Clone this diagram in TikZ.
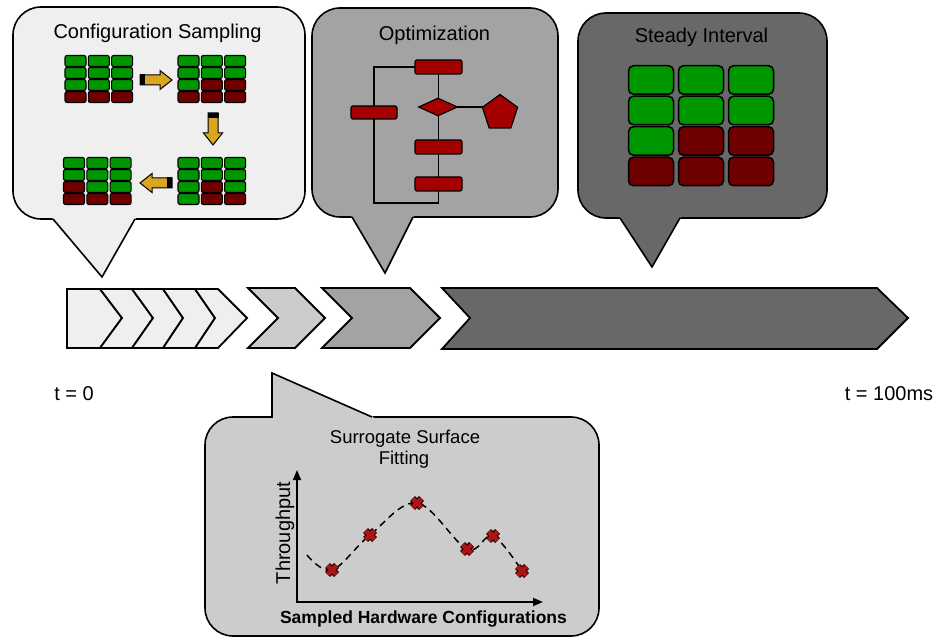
\documentclass[tikz,border=0pt]{standalone}
\usepackage{fontspec}
\setmainfont{Liberation Sans}
\usetikzlibrary{shapes.geometric,arrows.meta}
\pgfdeclarelayer{bubbles}\pgfdeclarelayer{wires}
\pgfsetlayers{bubbles,wires,main}
\definecolor{lg}{RGB}{239,239,239}
\definecolor{mg}{RGB}{204,204,204}
\definecolor{g2}{RGB}{163,163,163}
\definecolor{dg}{RGB}{104,104,104}
\definecolor{gn}{RGB}{0,150,0}
\definecolor{rd}{RGB}{110,0,0}
\definecolor{fred}{RGB}{165,0,0}
\definecolor{xred}{RGB}{175,20,20}
\definecolor{gold}{RGB}{218,165,32}
\tikzset{
  bubble/.style={draw=black, line width=1.6pt, rounded corners=28pt},
  tailline/.style={line width=1.6pt, line join=miter},
  chev/.style={draw=black, line width=1.8pt, line join=miter},
  cell/.style={draw=black, line width=1.1pt, rounded corners=2pt, minimum width=21pt, minimum height=11pt, inner sep=0pt},
  bigcell/.style={draw=black, line width=1.5pt, rounded corners=5pt, minimum width=45pt, minimum height=28.5pt, inner sep=0pt},
  flow/.style={draw=black, line width=1.2pt, fill=fred, rounded corners=2pt, minimum width=47pt, minimum height=14pt, inner sep=0pt},
  wire/.style={line width=1.8pt},
  lbl/.style={inner sep=0pt, anchor=base},
  xmark/.pic={\draw[line width=7pt] (-4.5,-4.5)--(4.5,4.5) (-4.5,4.5)--(4.5,-4.5);
              \draw[line width=4.6pt, xred] (-4.5,-4.5)--(4.5,4.5) (-4.5,4.5)--(4.5,-4.5);}
}
\newcommand{\cfggrid}[4]{%
  \foreach \c [count=\i from 0] in {#4} {
    \pgfmathtruncatemacro{\cc}{mod(\i,3)}
    \pgfmathtruncatemacro{\rr}{\i/3}
    \node[cell, fill=\c] (#1-\i) at ({#2+23.3*\cc},{#3+12*\rr}) {};
  }}
\newcommand{\goldarrow}[3]{%
  \begin{scope}[shift={(#1,#2)}, rotate=#3]
    \filldraw[fill=gold, draw=black, line width=1pt, line join=miter] (0,-5) -- (20,-5) -- (20,-9.5) -- (32,0) -- (20,9.5) -- (20,5) -- (0,5) -- cycle;
    \fill[black] (0,-5.5) rectangle (5,5.5);
  \end{scope}}
\begin{document}
\begin{tikzpicture}[x=1pt,y=-1pt, font=\fontsize{20}{24}\selectfont]
\useasboundingbox (0,0) rectangle (940,639);

% ---------- bubbles ----------
\begin{pgfonlayer}{bubbles}
  % configuration sampling
  \filldraw[bubble, fill=lg] (13,7) rectangle (305,219);
  \fill[lg] (50,216) -- (53,219) -- (102,277) -- (135,219) -- (138,216) -- cycle;
  \draw[tailline] (53,219) -- (102,277) -- (135,219);
  % optimization
  \filldraw[bubble, fill=g2] (312,8) rectangle (558,217);
  \fill[g2] (349,214) -- (352,217) -- (385,273) -- (413,217) -- (416,214) -- cycle;
  \draw[tailline] (352,217) -- (385,273) -- (413,217);
  % steady interval
  \filldraw[bubble, fill=dg] (578,13) rectangle (827,218);
  \fill[dg] (617,215) -- (620,218) -- (652,267) -- (680,218) -- (683,215) -- cycle;
  \draw[tailline] (620,218) -- (652,267) -- (680,218);
  % surrogate
  \filldraw[bubble, fill=mg] (205,417) rectangle (599,636);
  \fill[mg] (273,420) -- (273,374) -- (372,416) -- (376,420) -- cycle;
  \draw[tailline] (272,417) -- (272,373) -- (372,417);
\end{pgfonlayer}

% ---------- titles ----------
\node[lbl] (t1) at (157.5,39) {Configuration Sampling};
\node[lbl] (t2) at (434.5,41) {Optimization};
\node[lbl] (t3) at (701.5,43) {Steady Interval};
\node[lbl, font=\fontsize{18.5}{20}\selectfont] (t4) at (405,443) {Surrogate Surface};
\node[lbl, font=\fontsize{18.5}{20}\selectfont] (t5) at (404,464) {Fitting};

% ---------- configuration grids ----------
\cfggrid{ga}{75.5}{61}{gn,gn,gn,gn,gn,gn,gn,gn,gn,rd,rd,rd}
\cfggrid{gb}{188.5}{61}{gn,gn,gn,gn,gn,gn,gn,rd,rd,rd,rd,rd}
\cfggrid{gc}{188.5}{163}{gn,gn,gn,gn,gn,gn,gn,rd,gn,gn,rd,rd}
\cfggrid{gd}{74}{163}{gn,gn,gn,gn,gn,gn,rd,gn,gn,rd,rd,rd}
\goldarrow{140}{80}{0}
\goldarrow{213}{113}{-90}
\goldarrow{172}{183}{180}

% ---------- optimization flowchart ----------
\node[flow] (f1) at (438.5,67) {};
\node[flow, minimum width=46pt, minimum height=13pt] (f2) at (374,112.5) {};
\node[diamond, draw=black, fill=fred, line width=1.2pt, minimum width=39pt, minimum height=18pt, inner sep=0pt] (fd) at (438,107) {};
\node[regular polygon, regular polygon sides=5, draw=black, fill=fred, line width=1.2pt, minimum size=37pt, inner sep=0pt] (fp) at (500,113) {};
\node[flow] (f3) at (438.5,147) {};
\node[flow] (f4) at (438.5,184) {};
\coordinate (lb) at (374,203);
\begin{pgfonlayer}{wires}
  \draw[wire] (f1.center) -- (f4.center);
  \draw[wire] (fd.center) -- (fd.center -| fp.center);
  \draw[wire, line join=miter] (f1.center) -| (lb) -| (f4.center);
\end{pgfonlayer}

% ---------- steady grid ----------
\foreach \c [count=\i from 0] in {gn,gn,gn,gn,gn,gn,gn,rd,rd,rd,rd,rd} {
  \pgfmathtruncatemacro{\cc}{mod(\i,3)}
  \pgfmathtruncatemacro{\rr}{\i/3}
  \node[bigcell, fill=\c] (s-\i) at ({651+50*\cc},{80+30.5*\rr}) {};
}

% ---------- timeline chevrons ----------
\filldraw[chev, fill=lg] (67,289) -- (100,289) -- (122,318) -- (100,348) -- (67,348) -- cycle;
\filldraw[chev, fill=lg] (100,289) -- (132,289) -- (153,318) -- (132,348) -- (100,348) -- (122,318) -- cycle;
\filldraw[chev, fill=lg] (132,289) -- (163,289) -- (183,318) -- (163,348) -- (132,348) -- (153,318) -- cycle;
\filldraw[chev, fill=lg] (163,289) -- (195,289) -- (215,318) -- (195,348) -- (163,348) -- (183,318) -- cycle;
\filldraw[chev, fill=lg] (195,289) -- (218,289) -- (247,318) -- (218,348) -- (195,348) -- (215,318) -- cycle;
\filldraw[chev, fill=mg] (248,288) -- (295,288) -- (325,318) -- (295,348) -- (248,348) -- (278,318) -- cycle;
\filldraw[chev, fill=g2] (322,288) -- (410,288) -- (440,318) -- (410,348) -- (322,348) -- (352,318) -- cycle;
\filldraw[chev, fill=dg] (442,288) -- (877,288) -- (908,318) -- (877,349) -- (442,349) -- (470,318) -- cycle;

\node[lbl] (tz) at (74,400) {t = 0};
\node[lbl] (te) at (889,400) {t = 100ms};

% ---------- surrogate plot ----------
\coordinate (O) at (297,602);
\coordinate (yt) at (297,470);
\coordinate (xt) at (543,602);
\draw[line width=1.6pt, {Triangle[length=10pt,width=8pt]}-{Triangle[length=10pt,width=8pt]}, line join=miter] (yt) -- (O) -- (xt);
\coordinate (s0) at (307,555);
\coordinate (m1) at (332,570);
\coordinate (m2) at (370,535);
\coordinate (m3) at (417,503);
\coordinate (m4) at (467,549);
\coordinate (m5) at (493,536);
\coordinate (m6) at (522,571);
\draw[line width=1.5pt, dash pattern=on 7pt off 5pt] plot[smooth, tension=0.6] coordinates {(s0) (m1) (m2) (m3) (m4) (m5) (m6)};
\foreach \m in {m1,m2,m3,m4,m5,m6} \pic at (\m) {xmark};
\node[lbl, rotate=90] (ty) at (290,533) {Throughput};
\node[lbl, font=\bfseries\fontsize{17.5}{20}\selectfont] (tx) at (423.5,623) {Sampled Hardware Configurations};
\end{tikzpicture}
\end{document}
